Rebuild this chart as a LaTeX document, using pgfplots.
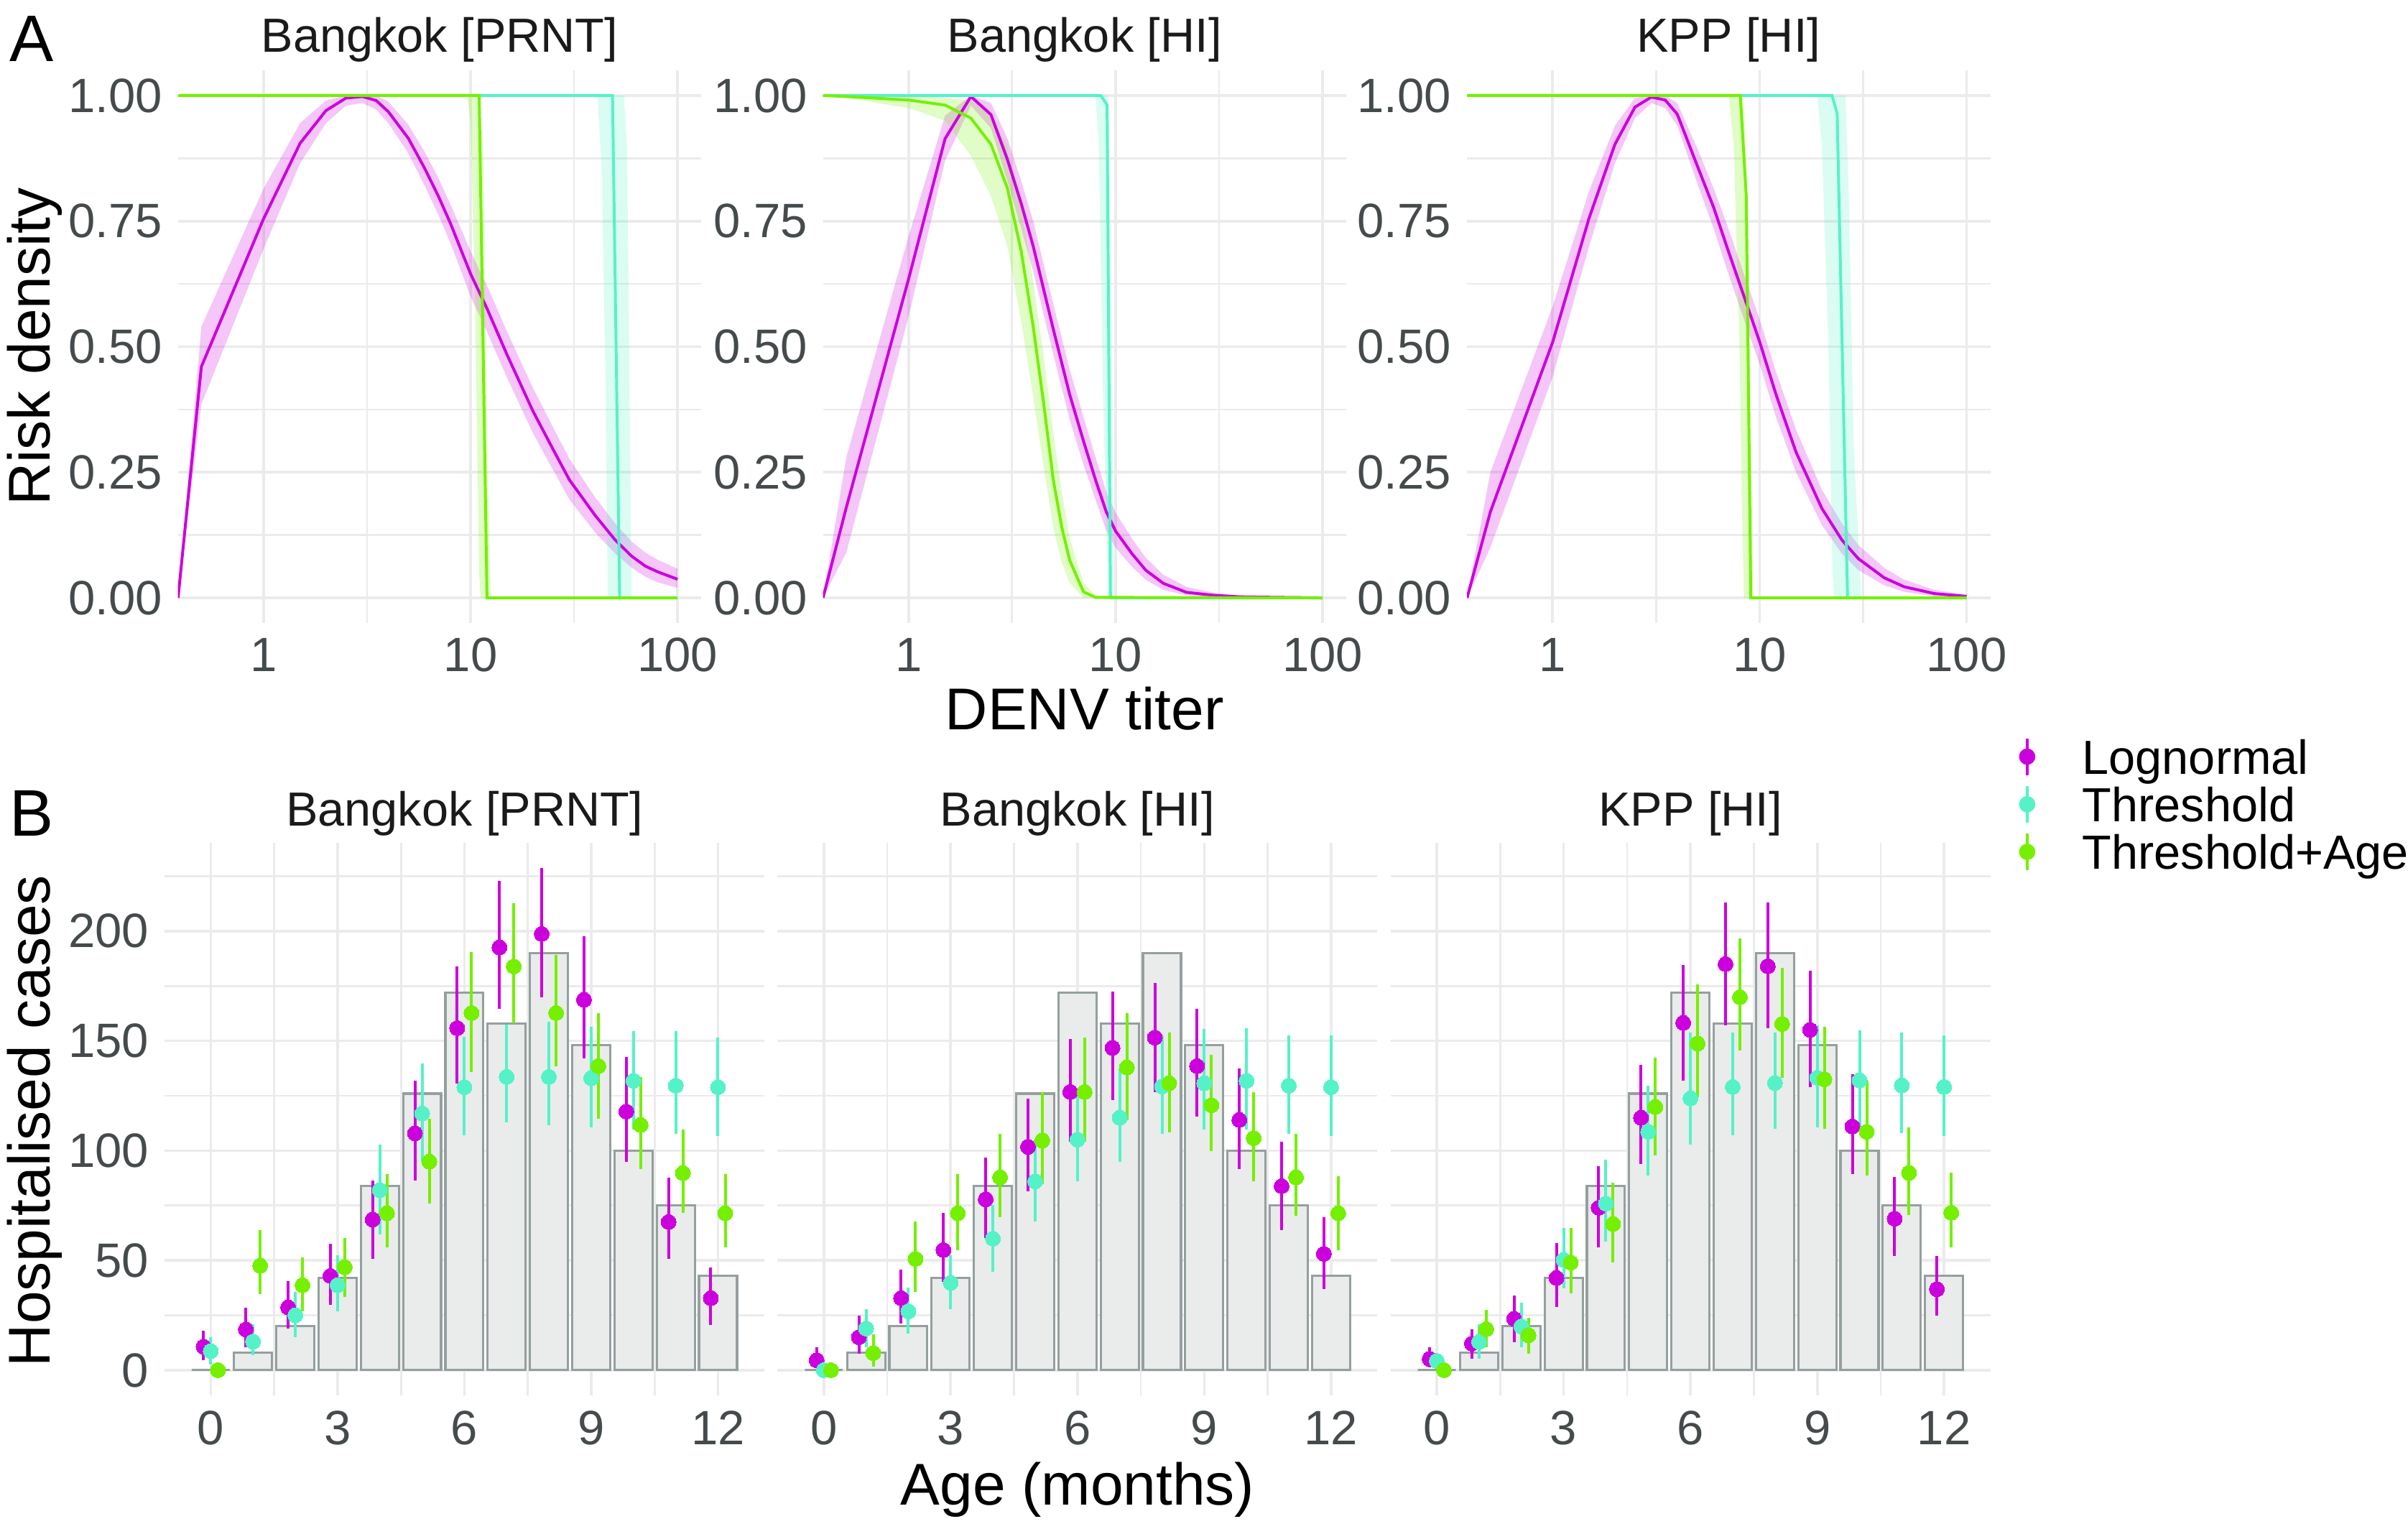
\documentclass[border=0pt]{standalone}
\usepackage{fontspec}
\setmainfont{Liberation Sans}
\usepackage{pgfplots}
\usepackage{pgfplotstable}
\pgfplotsset{compat=1.18}

\definecolor{lognorm}{HTML}{CC00DD}
\definecolor{thresh}{HTML}{55F2C8}
\definecolor{thrage}{HTML}{74F000}
\definecolor{gridc}{HTML}{EBEBEB}
\definecolor{tickc}{HTML}{454B4C}
\definecolor{titlec}{HTML}{1A1A1A}
\definecolor{barfill}{HTML}{E9ECEB}
\definecolor{bardraw}{HTML}{959F9F}

% ---------- panel A: risk curves (x = titer, y = risk density) ----------
\pgfplotstableread{
x y
0.386 0
0.5 0.46
1 0.755
1.5 0.905
2 0.970
2.5 0.995
3 0.998
3.5 0.990
4 0.968
5 0.915
6 0.855
7 0.799
8 0.745
10 0.645
12 0.576
15 0.484
20 0.372
25 0.296
30 0.235
40 0.164
50 0.115
60 0.083
70 0.063
80 0.052
100 0.037
}\AoneLog
\pgfplotstableread{
x y
0.386 1
48.5 1
52.5 0
100 0
}\AoneThr
\pgfplotstableread{
x y
0.386 1
11.0 1
12.0 0
100 0
}\AoneAge

\pgfplotstableread{
x y
0.386 0
0.5 0.18
1 0.635
1.5 0.914
2 0.998
2.5 0.962
3 0.873
3.5 0.785
4 0.70
5 0.535
6 0.405
7 0.312
8 0.235
9 0.172
10 0.133
12 0.088
14 0.055
17 0.029
22 0.011
30 0.005
40 0.002
60 0.001
100 0
}\AtwoLog
\pgfplotstableread{
x y
0.386 1
8.5 1
9.1 0.981
9.45 0
100 0
}\AtwoThr
\pgfplotstableread{
x y
0.386 1
0.5 0.998
1 0.991
1.5 0.981
2 0.955
2.5 0.903
3 0.816
3.5 0.69
4 0.54
4.5 0.385
5 0.235
5.5 0.14
6 0.075
7 0.012
8 0.001
100 0
}\AtwoAge

\pgfplotstableread{
x y
0.386 0
0.5 0.171
1 0.509
1.5 0.756
2 0.903
2.5 0.977
3 0.997
3.5 0.991
4 0.963
5 0.86
6 0.777
7 0.695
8 0.626
10 0.51
12 0.405
15 0.29
20 0.178
25 0.115
30 0.078
40 0.040
50 0.022
70 0.0085
100 0.003
}\AthreeLog
\pgfplotstableread{
x y
0.386 1
22.4 1
23.7 0.964
26.6 0
100 0
}\AthreeThr
\pgfplotstableread{
x y
0.386 1
8.07 1
8.62 0.80
9.07 0
100 0
}\AthreeAge

% ---------- panel B: observed cases (bar) and model fits (value, low, high) ----------
% l = Lognormal, t = Threshold, g = Threshold+Age
\pgfplotstableread{
a bar lv ll lh tv tl th gv gl gh
0 0 10.7 4.5 17.9 8.7 2.7 15.0 0 0 0.5
1 8 18.5 10.5 28.4 13.0 6.7 20.8 47.6 34.6 63.7
2 20 28.6 19.0 40.7 25.0 15.0 35.5 38.7 26.8 51.4
3 42 42.9 29.7 57.7 38.7 26.8 52.5 46.9 33.5 60.3
4 84 68.6 50.7 86.5 82.0 61.9 102.8 71.5 55.9 89.4
5 126 107.9 86.5 131.8 116.9 95.0 139.7 95.0 76.0 114.5
6 172 155.8 130.7 183.9 128.9 107.0 152.0 162.7 135.9 190.4
7 158 192.6 164.7 222.8 133.6 112.8 157.5 183.9 158.0 212.7
8 190 198.7 169.8 228.6 133.6 111.7 158.7 162.7 138.5 189.3
9 148 168.7 141.9 197.8 133.0 110.6 156.4 138.5 114.6 162.5
10 100 117.8 95.0 142.6 131.8 109.5 154.6 111.7 91.6 133.4
11 75 67.5 50.7 87.8 129.6 107.7 154.6 89.8 71.5 109.5
12 43 32.8 20.6 46.9 128.9 106.8 151.5 71.5 55.9 89.4
}\Bone
\pgfplotstableread{
a bar lv ll lh tv tl th gv gl gh
0 0 4.5 1.1 10.5 0.0 0.0 0.5 0.0 0.0 0.3
1 8 15.0 7.4 25.0 19.0 10.5 27.9 7.8 1.6 16.3
2 20 32.8 21.2 45.8 26.8 16.8 37.5 50.7 35.8 67.7
3 42 54.7 40.2 71.5 39.8 27.9 52.5 71.5 54.7 89.4
4 84 77.8 60.3 96.8 59.9 44.7 75.3 87.8 69.7 107.7
5 126 101.7 81.6 123.6 86.0 67.7 105.0 104.6 84.9 126.7
6 172 126.7 103.9 150.8 105.0 86.0 126.3 126.7 103.9 151.5
7 158 146.8 122.9 172.5 115.0 95.0 137.4 137.9 114.0 162.7
8 190 151.5 126.7 176.5 129.2 107.7 152.6 130.7 108.4 153.7
9 148 138.5 115.5 164.7 130.7 109.5 155.3 120.7 99.9 143.5
10 100 114.0 91.6 137.4 131.8 109.5 155.8 105.7 86.0 126.7
11 75 83.8 63.7 103.9 129.6 107.7 152.6 87.8 70.4 107.7
12 43 53.0 36.9 69.7 128.9 106.8 152.6 71.5 54.7 88.3
}\Btwo
\pgfplotstableread{
a bar lv ll lh tv tl th gv gl gh
0 0 5.1 1.2 10.5 4.2 1.9 7.0 0.0 0.0 0.3
1 8 12.1 5.1 18.7 12.9 5.1 21.0 18.7 10.5 27.6
2 20 23.4 12.9 33.9 19.9 10.5 30.8 15.9 7.5 23.8
3 42 42.0 28.7 57.9 50.2 37.4 64.7 49.0 35.0 64.7
4 84 74.0 56.1 93.0 75.9 58.4 95.8 66.6 49.0 85.3
5 126 115.0 93.9 139.0 108.6 88.8 129.7 119.9 97.7 142.5
6 172 158.2 132.0 184.6 123.8 102.8 153.7 148.8 124.3 175.7
7 158 185.0 157.0 213.0 129.0 107.0 153.7 169.9 145.6 196.7
8 190 184.0 155.8 213.0 130.8 109.8 153.7 157.7 133.2 183.4
9 148 155.0 129.0 181.8 133.2 110.5 157.0 132.5 109.8 156.5
10 100 111.0 89.3 134.8 132.0 109.8 154.9 108.6 88.8 132.0
11 75 69.0 51.9 88.1 129.7 107.9 153.7 89.9 70.6 110.5
12 43 36.9 25.0 51.9 129.0 106.8 152.6 71.7 56.1 90.0
}\Bthree

\pgfplotsset{
  gbase/.style={
    scale only axis,
    axis line style={draw=none},
    tick style={draw=none},
    grid=both,
    major grid style={gridc, line width=0.89pt},
    minor grid style={gridc, line width=0.65pt},
    tick label style={font=\fontsize{16.1}{18}\selectfont, text=tickc, inner sep=0pt},
    yticklabel style={anchor=east, xshift=-5.04pt},
  },
  rowA/.style={gbase,
    width=174.86pt, height=184.56pt,
    xmin=0.3855, xmax=130.3, ymin=-0.05, ymax=1.05,
    xtick={1,10,100}, xticklabels={1,10,100},
    minor xtick={3.1623,31.623},
    ytick={0,0.25,0.5,0.75,1}, yticklabels={0.00,0.25,0.50,0.75,1.00},
    minor ytick={0.125,0.375,0.625,0.875},
    xticklabel style={anchor=base, yshift=-16.08pt},
  },
  rowB/.style={gbase,
    width=200.4pt, height=184.56pt,
    xmin=-1.095, xmax=13.095, ymin=-11.4, ymax=240.3,
    xtick={0,3,6,9,12}, xticklabels={0,3,6,9,12},
    minor xtick={1.5,4.5,7.5,10.5},
    ytick={0,50,100,150,200}, yticklabels={0,50,100,150,200},
    minor ytick={25,75,125,175,225},
    xticklabel style={anchor=base, yshift=-16.39pt},
  },
  noylab/.style={yticklabels={{},{},{},{},{}}},
  crv/.style={line width=0.95pt},
  rib/.style={fill=#1, draw=none, fill opacity=0.22},
}

\newcommand{\fits}[6]{%
  \addplot[#2, only marks, mark=*, mark size=2.52pt, mark options={line width=0pt},
    error bars/.cd, y dir=both, y explicit, error mark=none,
    error bar style={line width=0.96pt, solid}]
    table[x expr=\thisrow{a}+(#6), y=#3,
      y error plus expr=\thisrow{#5}-\thisrow{#3},
      y error minus expr=\thisrow{#3}-\thisrow{#4}] {#1};
}
\newcommand{\obsbars}[1]{%
  \addplot[ybar, bar width=0.9, fill=barfill, draw=bardraw, line width=0.75pt, forget plot]
    table[x=a, y=bar] {#1};
}

\begin{document}
\begin{tikzpicture}
\useasboundingbox (0,0) rectangle (804.48pt,-508.8pt);

% ---------------- row A ----------------
\begin{semilogxaxis}[rowA, at={(59.45pt,-23.52pt)}, anchor=north west]
% credible bands: upper edge left to right, then lower edge back
\addplot[rib=lognorm] coordinates {(0.386,0) (0.5,0.54) (1,0.815) (1.5,0.945) (2,0.99) (2.5,1.0) (3,1.0) (3.5,1.0) (4,0.988) (5,0.942) (6,0.888) (7,0.835) (8,0.783) (10,0.690) (12,0.622) (15,0.530) (20,0.418) (25,0.340) (30,0.277) (40,0.200) (50,0.148) (60,0.112) (70,0.090) (80,0.076) (100,0.058)
 (100,0.020) (80,0.031) (70,0.042) (60,0.060) (50,0.088) (40,0.130) (30,0.196) (25,0.255) (20,0.328) (15,0.438) (12,0.530) (10,0.600) (8,0.706) (7,0.762) (6,0.82) (5,0.885) (4,0.945) (3.5,0.972) (3,0.985) (2.5,0.98) (2,0.945) (1.5,0.865) (1,0.695) (0.5,0.385)} -- cycle;
\addplot[rib=thresh] coordinates {(41,1) (55,1) (57,0.9) (59,0.3) (60,0) (46,0) (45,0.4) (43,0.85)} -- cycle;
\addplot[rib=thrage] coordinates {(9.6,1) (11,1) (11.5,0.9) (12,0.3) (12.5,0) (11.2,0) (11,0.05) (10.5,0.6) (10,0.95)} -- cycle;
\addplot[crv, lognorm] table[x=x, y=y] {\AoneLog};
\addplot[crv, thresh] table[x=x, y=y] {\AoneThr};
\addplot[crv, thrage] table[x=x, y=y] {\AoneAge};
\end{semilogxaxis}

\begin{semilogxaxis}[rowA, at={(274.92pt,-23.52pt)}, anchor=north west]
\addplot[rib=lognorm] coordinates {(0.386,0) (0.5,0.28) (1,0.72) (1.5,0.96) (2,1.0) (2.5,0.985) (3,0.915) (3.5,0.83) (4,0.75) (5,0.585) (6,0.455) (7,0.36) (8,0.28) (9,0.212) (10,0.17) (12,0.118) (14,0.08) (17,0.046) (22,0.022) (30,0.010) (40,0.004) (60,0.002) (100,0)
 (60,0) (40,0) (30,0.002) (22,0.005) (17,0.016) (14,0.036) (12,0.062) (10,0.10) (9,0.135) (8,0.195) (7,0.265) (6,0.355) (5,0.485) (4,0.65) (3.5,0.735) (3,0.83) (2.5,0.935) (2,0.98) (1.5,0.87) (1,0.56) (0.5,0.09)} -- cycle;
\addplot[rib=thresh] coordinates {(8.0,1) (9.2,1) (9.6,0.5) (9.8,0) (9.2,0) (8.7,0.4) (8.3,0.9)} -- cycle;
\addplot[rib=thrage] coordinates {(0.386,1) (0.5,1) (1,1) (1.5,0.995) (2,0.99) (2.5,0.96) (3,0.90) (3.5,0.78) (4,0.63) (4.5,0.48) (5,0.33) (5.5,0.21) (6,0.12) (7,0.03) (8,0.003) (8.5,0)
 (7,0) (6,0.03) (5.5,0.07) (5,0.14) (4.5,0.26) (4,0.40) (3.5,0.55) (3,0.70) (2.5,0.80) (2,0.88) (1.5,0.95) (1,0.975) (0.5,0.995)} -- cycle;
\addplot[crv, lognorm] table[x=x, y=y] {\AtwoLog};
\addplot[crv, thresh] table[x=x, y=y] {\AtwoThr};
\addplot[crv, thrage] table[x=x, y=y] {\AtwoAge};
\end{semilogxaxis}

\begin{semilogxaxis}[rowA, at={(490.08pt,-23.52pt)}, anchor=north west]
\addplot[rib=lognorm] coordinates {(0.386,0) (0.5,0.25) (1,0.58) (1.5,0.81) (2,0.94) (2.5,0.995) (3,1.0) (3.5,1.0) (4,0.985) (5,0.895) (6,0.815) (7,0.74) (8,0.67) (10,0.555) (12,0.45) (15,0.335) (20,0.215) (25,0.148) (30,0.105) (40,0.060) (50,0.036) (70,0.016) (100,0.006)
 (100,0.001) (70,0.003) (50,0.012) (40,0.025) (30,0.055) (25,0.088) (20,0.145) (15,0.25) (12,0.36) (10,0.465) (8,0.58) (7,0.65) (6,0.735) (5,0.825) (4,0.94) (3.5,0.975) (3,0.985) (2.5,0.955) (2,0.865) (1.5,0.70) (1,0.44) (0.5,0.10)} -- cycle;
\addplot[rib=thresh] coordinates {(19,1) (26,1) (27,0.8) (28.5,0.3) (31,0) (23,0) (22.5,0.05) (21.5,0.5) (20,0.9)} -- cycle;
\addplot[rib=thrage] coordinates {(7.1,1) (8.2,1) (8.4,0.98) (8.8,0.75) (9.3,0) (8.4,0) (8.2,0.2) (8.0,0.5) (7.5,0.9)} -- cycle;
\addplot[crv, lognorm] table[x=x, y=y] {\AthreeLog};
\addplot[crv, thresh] table[x=x, y=y] {\AthreeThr};
\addplot[crv, thrage] table[x=x, y=y] {\AthreeAge};
\end{semilogxaxis}

% ---------------- row B ----------------
\begin{axis}[rowB, at={(54.94pt,-281.45pt)}, anchor=north west]
\obsbars{\Bone}
\fits{\Bone}{lognorm}{lv}{ll}{lh}{-0.17}
\fits{\Bone}{thresh}{tv}{tl}{th}{0}
\fits{\Bone}{thrage}{gv}{gl}{gh}{0.17}
\end{axis}

\begin{axis}[rowB, noylab, at={(259.75pt,-281.45pt)}, anchor=north west]
\obsbars{\Btwo}
\fits{\Btwo}{lognorm}{lv}{ll}{lh}{-0.17}
\fits{\Btwo}{thresh}{tv}{tl}{th}{0}
\fits{\Btwo}{thrage}{gv}{gl}{gh}{0.17}
\end{axis}

\begin{axis}[rowB, noylab, at={(464.54pt,-281.45pt)}, anchor=north west,
  legend cell align=left,
  legend style={at={(1.0478,1.1914)}, anchor=north west, draw=none, fill=none,
    inner sep=0pt, outer sep=0pt, row sep=2.7pt, column sep=15.72pt,
    font=\fontsize{16}{18}\selectfont, text=black,
    nodes={inner sep=0pt, text height=11.5pt, text depth=0pt}},
  legend image code/.code={
    \draw[line width=0.96pt, solid] (0pt,-6.12pt) -- (0pt,6.12pt);
    \fill (0pt,0pt) circle (2.52pt);
    \path (-2.52pt,0pt) (2.52pt,0pt);
  }]
\obsbars{\Bthree}
\fits{\Bthree}{lognorm}{lv}{ll}{lh}{-0.17}
\fits{\Bthree}{thresh}{tv}{tl}{th}{0}
\fits{\Bthree}{thrage}{gv}{gl}{gh}{0.17}
\addlegendentry{Lognormal}
\addlegendentry{Threshold}
\addlegendentry{Threshold+Age}
\end{axis}

% ---------------- text ----------------
\begin{scope}[every node/.style={inner sep=0pt, outer sep=0pt}]
\node[anchor=base west, font=\fontsize{22}{24}\selectfont] at (3.36pt,-20.4pt) {A};
\node[anchor=base west, font=\fontsize{22}{24}\selectfont] at (3.36pt,-279.12pt) {B};
\begin{scope}[every node/.append style={anchor=base, font=\fontsize{16}{18}\selectfont, text=titlec}]
\node at (146.88pt,-17.5pt) {Bangkok [PRNT]};
\node at (362.35pt,-17.5pt) {Bangkok [HI]};
\node at (577.51pt,-17.5pt) {KPP [HI]};
\node at (155.14pt,-275.76pt) {Bangkok [PRNT]};
\node at (359.95pt,-275.76pt) {Bangkok [HI]};
\node at (564.74pt,-275.76pt) {KPP [HI]};
\end{scope}
\begin{scope}[every node/.append style={anchor=base, font=\fontsize{19.7}{22}\selectfont}]
\node[rotate=90] at (16.8pt,-115.8pt) {Risk density};
\node[rotate=90] at (16.8pt,-374.4pt) {Hospitalised cases};
\node at (362.35pt,-243.7pt) {DENV titer};
\node at (360pt,-502.56pt) {Age (months)};
\end{scope}
\end{scope}
\end{tikzpicture}
\end{document}
